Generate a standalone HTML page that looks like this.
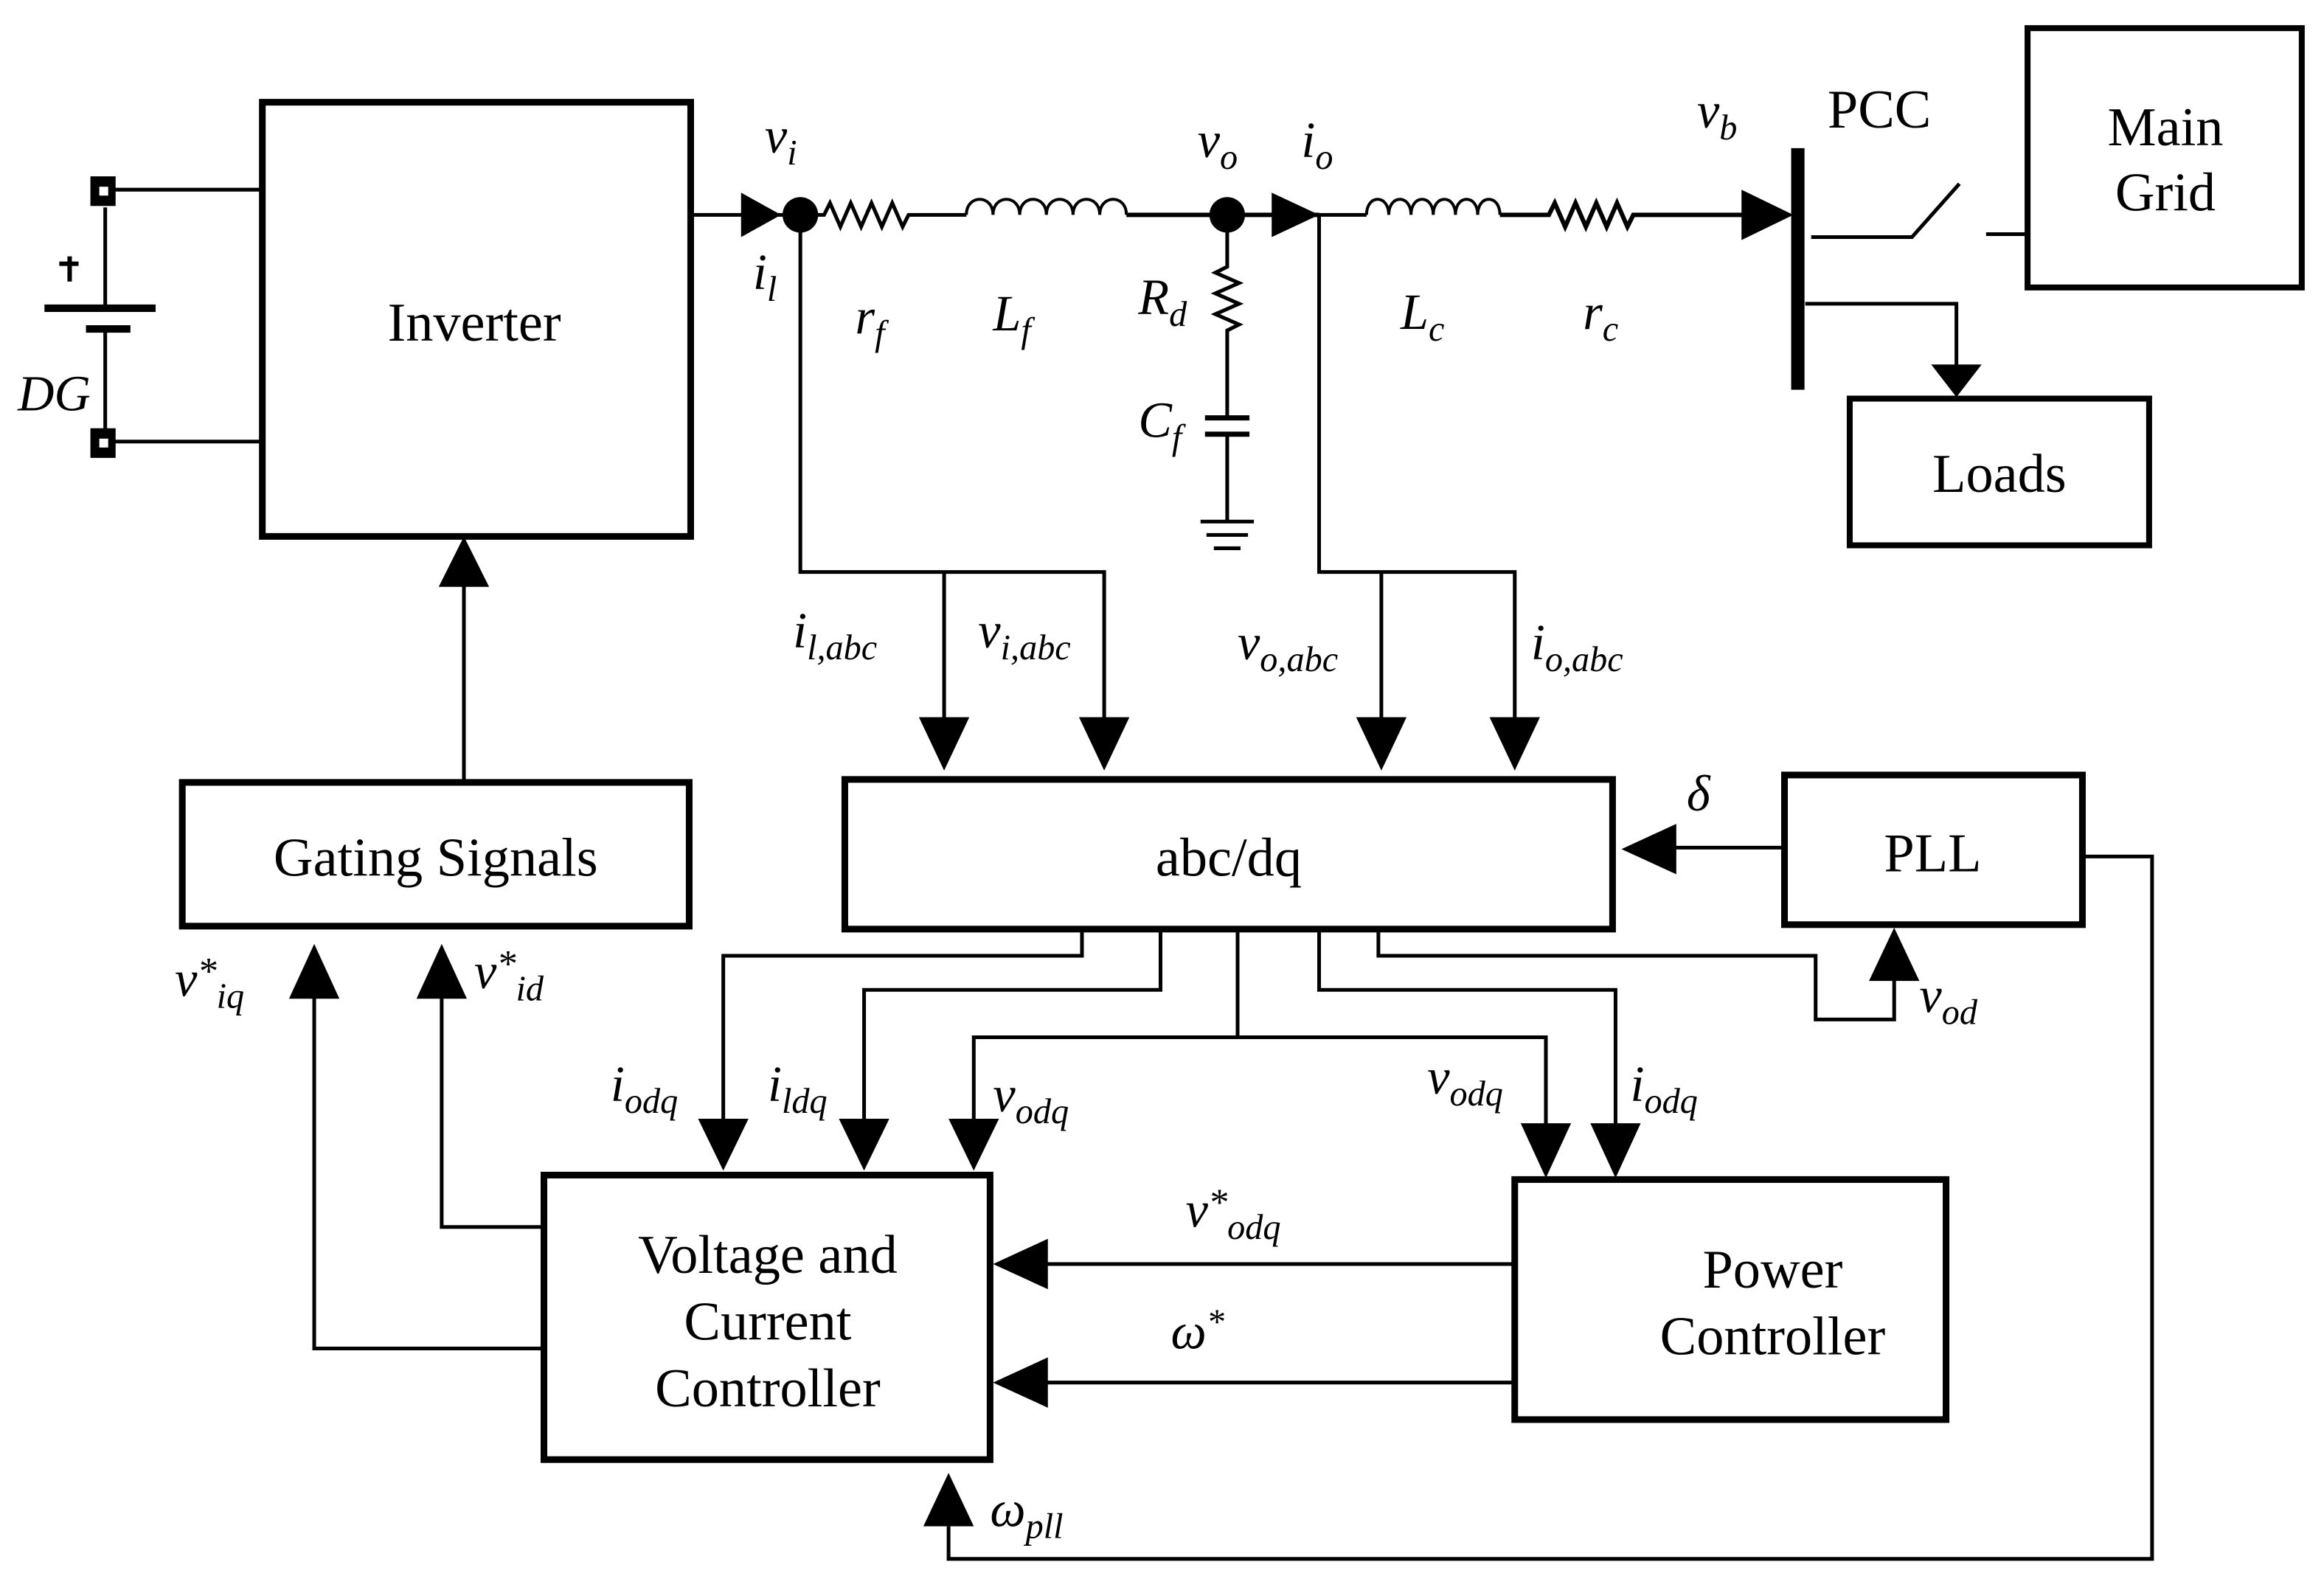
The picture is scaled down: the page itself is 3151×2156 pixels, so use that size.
<!DOCTYPE html>
<html><head><meta charset="utf-8"><style>html,body{margin:0;padding:0;background:#fff}svg{display:block}
text{font-family:"Liberation Serif",serif;fill:#000}
.b{font-size:37px}.i{font-style:italic;font-size:34px}.s{font-size:24px;font-style:italic}</style></head><body>
<svg width="3151" height="2156" viewBox="0 0 1568 1073" preserveAspectRatio="none" xmlns="http://www.w3.org/2000/svg">
<g fill="none" stroke="#000" stroke-width="2.5">
<rect x="177" y="69" width="289" height="293" stroke-width="4.5"/>
<rect x="1368" y="19" width="185" height="175" stroke-width="4"/>
<rect x="1248" y="269" width="202" height="99" stroke-width="4"/>
<rect x="123" y="528" width="342" height="97" stroke-width="4.5"/>
<rect x="570" y="526" width="518" height="101" stroke-width="4.5"/>
<rect x="1204" y="523" width="201" height="101" stroke-width="4.5"/>
<rect x="367" y="793" width="301" height="192" stroke-width="4.5"/>
<rect x="1022" y="796" width="291" height="162" stroke-width="4.5"/>
<path d="M72 128H177M72 298H177M71 140V208M71 222V290"/>
<path d="M30 208H105" stroke-width="5"/><path d="M58 222H88" stroke-width="5"/>
<rect x="61" y="119" width="17" height="20" fill="#000" stroke="none"/>
<rect x="61" y="289" width="17" height="20" fill="#000" stroke="none"/>
<rect x="67" y="126" width="6" height="6" fill="#fff" stroke="none"/>
<rect x="67" y="296" width="6" height="6" fill="#fff" stroke="none"/>
<path d="M40 178H53M47 173V190" stroke-width="3"/>
<path d="M466 145H540"/>
<path d="M540 145H556l4-8 7 16 7-16 7 16 7-16 7 16 7-16 7 16 4-8H652"/>
<path d="M652 145c0-14 18-14 18 0c0-14 18-14 18 0c0-14 18-14 18 0c0-14 18-14 18 0c0-14 18-14 18 0c0-14 18-14 18 0" stroke-width="2"/>
<path d="M760 145H890" stroke-width="3"/>
<path d="M890 145H922"/>
<path d="M922 145c0-14 15-14 15 0c0-14 15-14 15 0c0-14 15-14 15 0c0-14 15-14 15 0c0-14 15-14 15 0c0-14 15-14 15 0" stroke-width="2"/>
<path d="M1012 145H1045l4-8 7 16 7-16 7 16 7-16 7 16 7-16 7 16 4-8H1180" stroke-width="3"/>
<path d="M1213 100V263" stroke-width="9"/>
<path d="M828 145V180l-8 4 16 7-16 7 16 7-16 7 16 7-8 4V282M828 293V352M810 352H846M814 361H842M819 370H837" stroke-width="2.5"/>
<path d="M813 282H843M813 293H843" stroke-width="3.5"/>
<path d="M1222 160H1290L1322 124M1340 158H1368M1218 205H1320V248"/>
<path d="M540 145V386H745V490M637 386V490M890 145V386H1022V490M932 386V490"/>
<path d="M1204 572H1128M1405 578H1452V1052H640V1030"/>
<path d="M930 627V645H1225V688H1278V660"/>
<path d="M313 528V395"/>
<path d="M730 627V645H488V755M783 627V668H583V755M835 627V700H657V755M835 700H1043V760M890 627V668H1090V760"/>
<path d="M1022 853H705M1022 933H705"/>
<path d="M367 828H298V672M367 910H212V672"/>
</g>
<g fill="#000">
<circle cx="540" cy="145" r="12"/><circle cx="828" cy="145" r="12"/>
<polygon points="500,130 527,145 500,160"/>
<polygon points="858,130 890,145 858,160"/>
<polygon points="1175,128 1210,145 1175,162"/>
<polygon points="1303,246 1337,246 1320,268"/>
<polygon points="296,396 330,396 313,362"/>
<polygon points="620,484 654,484 637,520"/><polygon points="728,484 762,484 745,520"/>
<polygon points="915,484 949,484 932,520"/><polygon points="1005,484 1039,484 1022,520"/>
<polygon points="1131,556 1131,590 1094,573"/>
<polygon points="1261,662 1295,662 1278,626"/>
<polygon points="281,674 315,674 298,637"/><polygon points="195,674 229,674 212,637"/>
<polygon points="471,755 505,755 488,790"/><polygon points="566,755 600,755 583,790"/><polygon points="640,755 674,755 657,790"/>
<polygon points="1026,758 1060,758 1043,795"/><polygon points="1073,758 1107,758 1090,795"/>
<polygon points="707,836 707,870 670,853"/><polygon points="707,916 707,950 670,933"/>
<polygon points="623,1030 657,1030 640,994"/>
</g>
<text class="b" x="320" y="230" text-anchor="middle">Inverter</text>
<text class="b" x="1461" y="98" text-anchor="middle">Main</text>
<text class="b" x="1461" y="142" text-anchor="middle">Grid</text>
<text class="b" x="1349" y="332" text-anchor="middle">Loads</text>
<text class="b" x="1268" y="86" text-anchor="middle">PCC</text>
<text class="b" x="294" y="591" text-anchor="middle">Gating Signals</text>
<text class="b" x="829" y="591" text-anchor="middle">abc/dq</text>
<text class="b" x="1304" y="588" text-anchor="middle">PLL</text>
<text class="b" x="518" y="859" text-anchor="middle">Voltage and</text>
<text class="b" x="518" y="904" text-anchor="middle">Current</text>
<text class="b" x="518" y="949" text-anchor="middle">Controller</text>
<text class="b" x="1196" y="869" text-anchor="middle">Power</text>
<text class="b" x="1196" y="914" text-anchor="middle">Controller</text>
<text class="i" x="12" y="277">DG</text>
<text class="i" x="516" y="103">v<tspan class="s" dy="8">i</tspan></text>
<text class="i" x="508" y="195">i<tspan class="s" dy="8">l</tspan></text>
<text class="i" x="577" y="225">r<tspan class="s" dy="8">f</tspan></text>
<text class="i" x="670" y="223">L<tspan class="s" dy="8">f</tspan></text>
<text class="i" x="808" y="106">v<tspan class="s" dy="8">o</tspan></text>
<text class="i" x="878" y="106">i<tspan class="s" dy="8">o</tspan></text>
<text class="i" x="768" y="212">R<tspan class="s" dy="8">d</tspan></text>
<text class="i" x="768" y="295">C<tspan class="s" dy="8">f</tspan></text>
<text class="i" x="945" y="222">L<tspan class="s" dy="8">c</tspan></text>
<text class="i" x="1068" y="222">r<tspan class="s" dy="8">c</tspan></text>
<text class="i" x="1145" y="86">v<tspan class="s" dy="8">b</tspan></text>
<text class="i" x="535" y="437">i<tspan class="s" dy="8">l,abc</tspan></text>
<text class="i" x="660" y="437">v<tspan class="s" dy="8">i,abc</tspan></text>
<text class="i" x="835" y="445">v<tspan class="s" dy="8">o,abc</tspan></text>
<text class="i" x="1033" y="445">i<tspan class="s" dy="8">o,abc</tspan></text>
<text class="i" x="1138" y="547">δ</text>
<text class="i" x="1295" y="683">v<tspan class="s" dy="8">od</tspan></text>
<text class="i" x="118" y="672">v<tspan dy="-8" font-size="26">*</tspan><tspan class="s" dy="16">iq</tspan></text>
<text class="i" x="320" y="667">v<tspan dy="-8" font-size="26">*</tspan><tspan class="s" dy="16">id</tspan></text>
<text class="i" x="412" y="743">i<tspan class="s" dy="8">odq</tspan></text>
<text class="i" x="518" y="743">i<tspan class="s" dy="8">ldq</tspan></text>
<text class="i" x="670" y="750">v<tspan class="s" dy="8">odq</tspan></text>
<text class="i" x="963" y="738">v<tspan class="s" dy="8">odq</tspan></text>
<text class="i" x="1100" y="743">i<tspan class="s" dy="8">odq</tspan></text>
<text class="i" x="800" y="828">v<tspan dy="-8" font-size="26">*</tspan><tspan class="s" dy="16">odq</tspan></text>
<text class="i" x="790" y="910">ω<tspan dy="-10" font-size="24">*</tspan></text>
<text class="i" x="668" y="1030">ω<tspan class="s" dy="8">pll</tspan></text>
</svg>
</body></html>
